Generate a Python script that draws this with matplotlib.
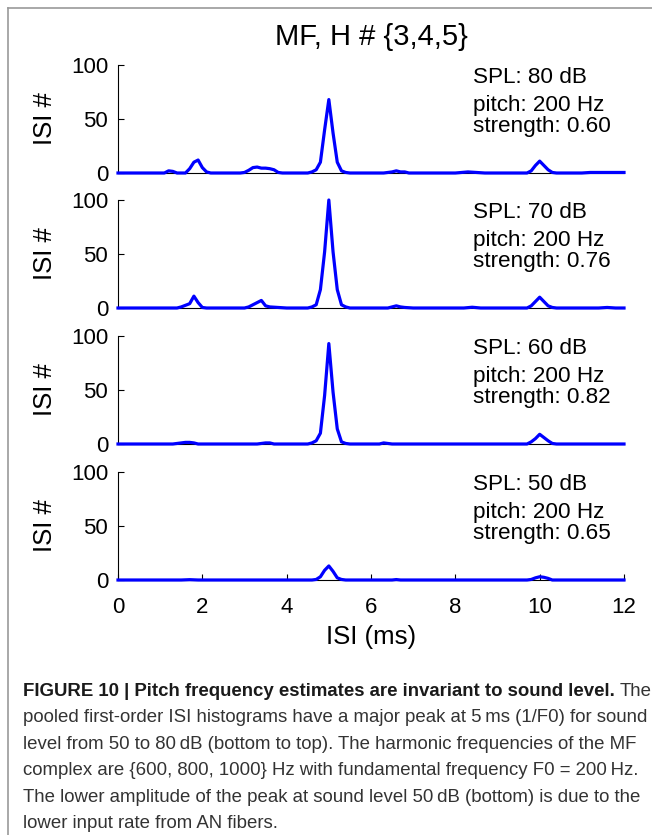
import matplotlib
matplotlib.use('Agg')
import matplotlib.pyplot as plt
from matplotlib.lines import Line2D
import numpy as np

plt.rcParams.update({
    'font.family': ['Liberation Sans', 'DejaVu Sans'],
    'font.size': 16,
    'xtick.labelsize': 16,
    'ytick.labelsize': 16,
})

# ---------- Data (ISI histogram vertices) ----------
levels = ['80', '70', '60', '50']
pitch_hz = ['200', '200', '200', '200']
strengths = ['0.60', '0.76', '0.82', '0.65']

isi_80 = [0, 1.1, 1.2, 1.3, 1.4, 1.6, 1.7, 1.8, 1.9, 2.0, 2.1, 2.2, 2.9, 3.0, 3.1, 3.2,
          3.3, 3.4, 3.5, 3.6, 3.7, 3.8, 3.9, 4.5, 4.6, 4.7, 4.8, 4.9, 5.0, 5.1, 5.2,
          5.3, 5.4, 5.5, 6.3, 6.5, 6.6, 6.7, 6.8, 6.9, 8.0, 8.3, 8.5, 8.7, 9.7, 9.8,
          9.9, 10.0, 10.1, 10.2, 10.3, 10.4, 11.0, 11.2, 11.6, 12.0]
cnt_80 = [0, 0, 2, 1.5, 0, 0, 4, 10, 12, 5, 1, 0, 0, 0.5, 2.5, 5,
          5.5, 4.5, 4.5, 4, 3, 0.5, 0, 0, 1, 3, 10, 40, 68, 37, 10,
          2, 0.5, 0, 0, 1, 2, 1, 1, 0, 0, 1, 0.5, 0, 0, 2,
          7, 11, 7, 3, 0.5, 0, 0, 0.5, 0.5, 0.5]

isi_70 = [0, 1.4, 1.5, 1.7, 1.8, 1.9, 2.0, 2.1, 3.0, 3.1, 3.2, 3.4, 3.5, 3.6, 3.8,
          4.0, 4.5, 4.6, 4.7, 4.8, 4.9, 5.0, 5.1, 5.2, 5.3, 5.4, 5.5, 6.4, 6.6, 6.7,
          6.8, 7.0, 8.2, 8.4, 8.6, 9.7, 9.8, 10.0, 10.2, 10.3, 10.4, 11.4, 11.6,
          11.8, 12.0]
cnt_70 = [0, 0, 1, 4, 11, 5, 0.5, 0, 0, 1, 3, 7, 2, 1, 0.5,
          0, 0, 1, 3, 17, 52, 100, 52, 17, 3, 1, 0, 0, 2, 1,
          0.5, 0, 0, 0.7, 0, 0, 2, 10, 2, 0.5, 0, 0, 0.5,
          0, 0]

isi_60 = [0, 1.3, 1.5, 1.6, 1.7, 1.8, 1.9, 3.3, 3.5, 3.6, 3.7, 4.5, 4.6, 4.7, 4.8,
          4.9, 5.0, 5.1, 5.2, 5.3, 5.4, 5.5, 6.2, 6.3, 6.4, 6.5, 9.7, 9.8, 9.9,
          10.0, 10.1, 10.2, 10.3, 10.4, 12.0]
cnt_60 = [0, 0, 1, 1.5, 1.5, 1, 0, 0, 1, 1, 0, 0, 1, 3, 10,
          45, 93, 48, 14, 2, 0.5, 0, 0, 1, 0.5, 0, 0, 2, 5,
          9, 6, 3, 0.5, 0, 0]

isi_50 = [0, 1.5, 1.7, 1.9, 4.6, 4.7, 4.8, 4.9, 5.0, 5.1, 5.2, 5.3, 5.4, 6.5, 6.6,
          6.7, 9.7, 9.8, 9.9, 10.0, 10.1, 10.2, 10.3, 12.0]
cnt_50 = [0, 0, 0.3, 0, 0, 0.5, 3, 9, 13, 8, 2, 0.5, 0, 0, 0.4,
          0, 0, 0.5, 2, 3, 2.5, 1.5, 0, 0]

series = [(isi_80, cnt_80), (isi_70, cnt_70), (isi_60, cnt_60), (isi_50, cnt_50)]

x_ticks = [0, 2, 4, 6, 8, 10, 12]
y_ticks = [0, 50, 100]

caption_bold = 'FIGURE 10 | Pitch frequency estimates are invariant to sound level.'
caption_lines = [
    'pooled first-order ISI histograms have a major peak at 5\u2009ms (1/F0) for sound',
    'level from 50 to 80\u2009dB (bottom to top). The harmonic frequencies of the MF',
    'complex are {600, 800, 1000} Hz with fundamental frequency F0 = 200\u2009Hz.',
    'The lower amplitude of the peak at sound level 50\u2009dB (bottom) is due to the',
    'lower input rate from AN fibers.',
]

# ---------- Figure ----------
W, H = 652, 835
fig = plt.figure(figsize=(W / 100, H / 100), dpi=100)

ax_left, ax_width, ax_height = 118, 506, 108
ax_tops = [65, 200, 336, 472]

for i, (isi, cnt) in enumerate(series):
    top = ax_tops[i]
    ax = fig.add_axes([ax_left / W, 1 - (top + ax_height) / H, ax_width / W, ax_height / H])
    ax.plot(isi, cnt, color='#0000FF', lw=2.3, zorder=3, clip_on=False)
    ax.set_xlim(0, 12)
    ax.set_ylim(0, 100)
    ax.set_yticks(y_ticks)
    ax.spines['top'].set_visible(False)
    ax.spines['right'].set_visible(False)
    for s in ('left', 'bottom'):
        ax.spines[s].set_linewidth(0.8)
    ax.tick_params(axis='y', direction='in', length=4, width=0.8, pad=7)
    if i == len(series) - 1:
        ax.set_xticks(x_ticks)
        ax.tick_params(axis='x', direction='in', length=4, width=0.8, pad=12)
    else:
        ax.set_xticks([])
    ax.text(8.43, 83, f'SPL: {levels[i]} dB', fontsize=16.2, va='baseline')
    ax.text(8.43, 57, f'pitch: {pitch_hz[i]} Hz', fontsize=16.2, va='baseline')
    ax.text(8.43, 38, f'strength: {strengths[i]}', fontsize=16.2, va='baseline')
    fig.text(45 / W, 1 - (top + ax_height / 2) / H, 'ISI #', rotation=90,
             ha='center', va='center', fontsize=18.5)

fig.text((ax_left + ax_width / 2) / W, 1 - 45 / H, 'MF, H # {3,4,5}', ha='center',
         va='baseline', fontsize=21)
fig.text((ax_left + ax_width / 2) / W, 1 - 637 / H, 'ISI (ms)', ha='center', va='center',
         fontsize=18.5)

# ---------- Caption ----------
cap_x, cap_y0, cap_dy = 23, 696, 26.4
cap_size = 13.4
t = fig.text(cap_x / W, 1 - cap_y0 / H, caption_bold, fontsize=cap_size, fontweight='bold',
             va='baseline', color='#1a1a1a')
fig.canvas.draw()
bb = t.get_window_extent()
fig.text(bb.x1 / W + 5 / W, 1 - cap_y0 / H, 'The', fontsize=cap_size, va='baseline',
         color='#333333')
for k, line in enumerate(caption_lines):
    fig.text(cap_x / W, 1 - (cap_y0 + cap_dy * (k + 1)) / H, line, fontsize=cap_size,
             va='baseline', color='#333333')

# figure frame
fig.add_artist(Line2D([8 / W, 1], [1 - 8 / H, 1 - 8 / H], color='#999999', lw=1.2))
fig.add_artist(Line2D([8 / W, 8 / W], [1 - 8 / H, 0], color='#999999', lw=1.2))

fig.savefig('out.png', dpi=100)
